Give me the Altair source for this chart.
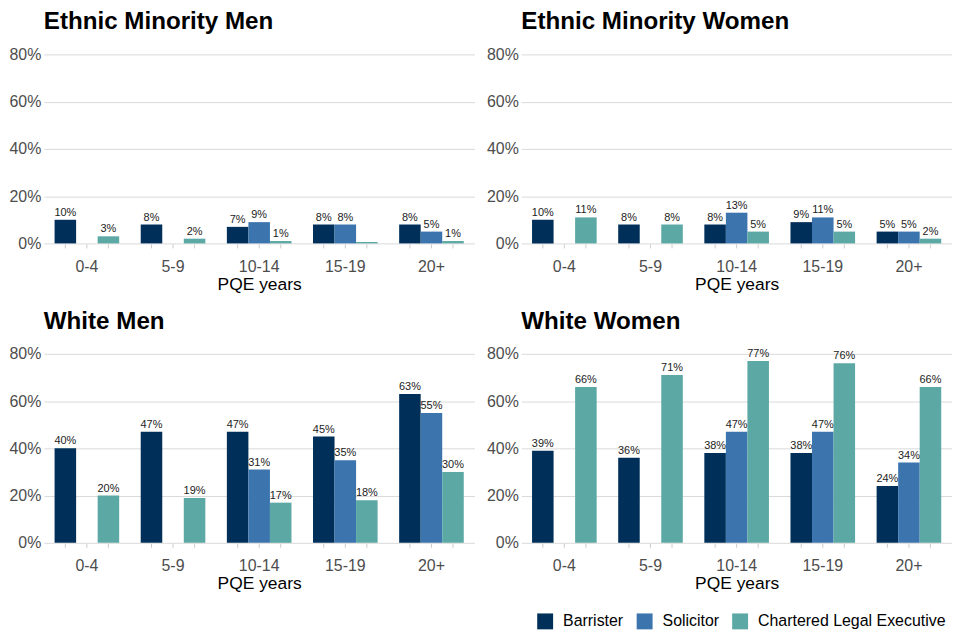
import altair as alt
import pandas as pd

groups = ["Ethnic Minority Men", "Ethnic Minority Women", "White Men", "White Women"]
pqe = ["0-4", "5-9", "10-14", "15-19", "20+"]
profs = ["Barrister", "Solicitor", "Chartered Legal Executive"]
colors = ["#00305A", "#3C75AE", "#5BA8A4"]

# values in percent (None = no bar)
barrister = {
    "Ethnic Minority Men": [10, 8, 7, 8, 8],
    "Ethnic Minority Women": [10, 8, 8, 9, 5],
    "White Men": [40, 47, 47, 45, 63],
    "White Women": [39, 36, 38, 38, 24],
}
solicitor = {
    "Ethnic Minority Men": [None, None, 9, 8, 5],
    "Ethnic Minority Women": [None, None, 13, 11, 5],
    "White Men": [None, None, 31, 35, 55],
    "White Women": [None, None, 47, 47, 34],
}
cle = {
    "Ethnic Minority Men": [3, 2, 1, 0.6, 1],
    "Ethnic Minority Women": [11, 8, 5, 5, 2],
    "White Men": [20, 19, 17, 18, 30],
    "White Women": [66, 71, 77, 76, 66],
}
# labels shown above bars ("" = no label)
cle_labels = {
    "Ethnic Minority Men": ["3%", "2%", "1%", "", "1%"],
}

rows = []
for g in groups:
    for i, p in enumerate(pqe):
        for prof, src in zip(profs, [barrister, solicitor, cle]):
            v = src[g][i]
            if v is None:
                lab = ""
            elif prof == "Chartered Legal Executive" and g in cle_labels:
                lab = cle_labels[g][i]
            else:
                lab = f"{round(v)}%"
            rows.append({"group": g, "pqe": p, "prof": prof,
                         "value": None if v is None else v / 100.0, "label": lab})
df = pd.DataFrame(rows)

FONT = "Liberation Sans"
W, H = 433, 190


def panel(g):
    base = alt.Chart(df).transform_filter(alt.datum.group == g)
    x = alt.X("pqe:N", sort=pqe,
              scale=alt.Scale(paddingInner=0.25, paddingOuter=0.125),
              axis=alt.Axis(title="PQE years", labelAngle=0, ticks=False, domain=False,
                            labelPadding=15, labelFontSize=16, labelColor="#4D4D4D",
                            titleFontSize=17.5, titleColor="#000000", titleFontWeight="normal",
                            titlePadding=1, labelFont=FONT, titleFont=FONT, grid=False))
    xo = alt.XOffset("prof:N", sort=profs, scale=alt.Scale(paddingInner=0, paddingOuter=0))
    y = alt.Y("value:Q", scale=alt.Scale(domain=[0, 0.8], nice=False),
              axis=alt.Axis(title=None, format=".0%", values=[0, 0.2, 0.4, 0.6, 0.8],
                            ticks=False, domain=False, labelPadding=3, labelFontSize=16,
                            labelColor="#4D4D4D", labelFont=FONT, gridColor="#DADADA",
                            gridWidth=1))
    bars = base.mark_bar(clip=False).encode(
        x=x, xOffset=xo, y=y,
        color=alt.Color("prof:N", sort=profs,
                        scale=alt.Scale(domain=profs, range=colors),
                        legend=alt.Legend(title=None, orient="none", direction="horizontal",
                                          legendX=496, legendY=562, symbolType="square",
                                          symbolSize=256, symbolStrokeWidth=0,
                                          labelFontSize=16, labelFont=FONT,
                                          labelColor="#000000", labelOffset=10,
                                          labelLimit=0, columnPadding=13)),
    )
    tks = base.mark_rule(color="#CCCCCC", strokeWidth=1).encode(
        x=x, xOffset=xo, y=alt.value(H + 1), y2=alt.value(H + 5))
    text = base.mark_text(dy=-7, fontSize=11, font=FONT, color="#222222").encode(
        x=x, xOffset=xo, y=y, text="label:N")
    return alt.layer(bars, tks, text).properties(
        width=W, height=H,
        title=alt.TitleParams(g, anchor="start", frame="group", fontSize=24.3, fontWeight="bold",
                              font=FONT, color="#000000", offset=12))


top = alt.hconcat(panel(groups[0]), panel(groups[1]), spacing=11)
bot = alt.hconcat(panel(groups[2]), panel(groups[3]), spacing=11)
chart = alt.vconcat(top, bot, spacing=16).properties(
    padding={"left": 0, "top": 0, "right": 0, "bottom": 0}
).configure_view(stroke=None).configure_axis(gridColor="#DADADA")

chart.save("out.html", embed_options={"renderer": "svg", "actions": False})
